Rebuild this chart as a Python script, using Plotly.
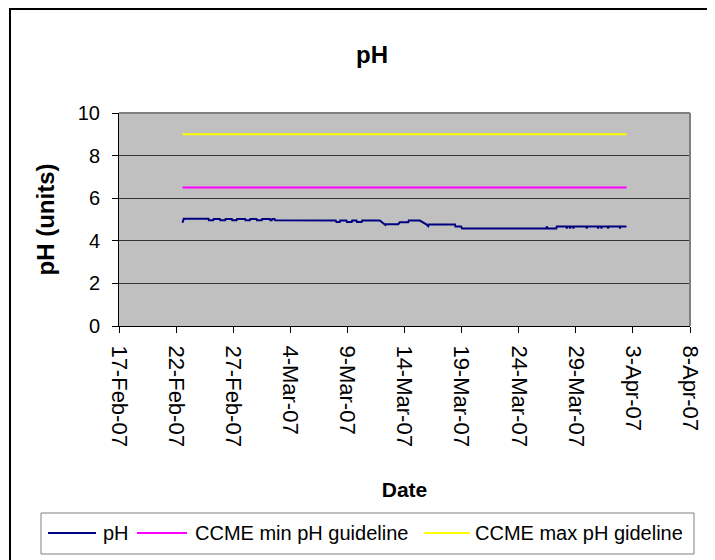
import plotly.graph_objects as go

# ---------------- data ----------------
ph_dates = [
    "2007-02-22 13:30", "2007-02-22 16:00", "2007-02-24 20:00", "2007-02-24 21:00",
    "2007-02-25 06:00", "2007-02-25 07:00", "2007-02-25 20:00", "2007-02-25 21:00",
    "2007-02-26 07:00", "2007-02-26 08:00", "2007-02-26 21:00", "2007-02-26 22:00",
    "2007-02-27 07:00", "2007-02-27 08:00", "2007-02-28 01:00", "2007-02-28 02:00",
    "2007-02-28 11:00", "2007-02-28 12:00", "2007-03-01 01:00", "2007-03-01 02:00",
    "2007-03-01 12:00", "2007-03-01 13:00", "2007-03-02 05:00", "2007-03-02 06:00",
    "2007-03-02 09:00", "2007-03-02 10:00", "2007-03-02 15:00", "2007-03-02 16:00",
    "2007-03-07 23:30", "2007-03-08 01:00", "2007-03-08 08:00", "2007-03-08 09:00",
    "2007-03-08 22:00", "2007-03-08 23:00", "2007-03-09 09:00", "2007-03-09 10:00",
    "2007-03-09 19:00", "2007-03-09 20:00", "2007-03-10 06:00", "2007-03-10 07:00",
    "2007-03-11 20:00", "2007-03-12 07:00", "2007-03-12 08:00", "2007-03-12 09:00",
    "2007-03-13 11:00", "2007-03-13 14:00", "2007-03-14 08:00", "2007-03-14 09:00",
    "2007-03-15 08:00", "2007-03-15 22:00", "2007-03-16 02:00", "2007-03-16 03:00",
    "2007-03-18 10:00", "2007-03-18 11:00", "2007-03-18 23:00", "2007-03-19 01:00",
    "2007-03-26 10:00", "2007-03-26 11:00", "2007-03-26 13:00", "2007-03-27 07:00",
    "2007-03-27 08:00", "2007-03-28 04:00", "2007-03-28 05:00", "2007-03-28 06:00",
    "2007-03-28 11:00", "2007-03-28 12:00", "2007-03-28 13:00", "2007-03-28 18:00",
    "2007-03-28 19:00", "2007-03-28 20:00", "2007-03-29 22:00", "2007-03-29 23:00",
    "2007-03-30 00:00", "2007-03-30 22:00", "2007-03-30 23:00", "2007-03-31 00:00",
    "2007-03-31 05:00", "2007-03-31 06:00", "2007-03-31 07:00", "2007-03-31 19:00",
    "2007-03-31 20:00", "2007-03-31 21:00", "2007-04-01 20:00", "2007-04-01 21:00",
    "2007-04-01 22:00", "2007-04-02 10:30",
]
ph_values = [
    4.85, 5.03, 5.03, 4.96,
    4.96, 5.02, 5.02, 4.96,
    4.96, 5.02, 5.02, 4.96,
    4.96, 5.02, 5.02, 4.96,
    4.96, 5.02, 5.02, 4.96,
    4.96, 5.02, 5.02, 4.96,
    4.96, 5.02, 5.02, 4.96,
    4.95, 4.88, 4.88, 4.95,
    4.95, 4.88, 4.88, 4.95,
    4.95, 4.88, 4.88, 4.95,
    4.95, 4.78, 4.74, 4.78,
    4.78, 4.87, 4.87, 4.95,
    4.95, 4.77, 4.69, 4.77,
    4.77, 4.67, 4.67, 4.58,
    4.58, 4.67, 4.58, 4.58,
    4.67, 4.67, 4.58, 4.67,
    4.67, 4.58, 4.67, 4.67,
    4.58, 4.67, 4.67, 4.58,
    4.67, 4.67, 4.58, 4.67,
    4.67, 4.58, 4.67, 4.67,
    4.58, 4.67, 4.67, 4.58,
    4.67, 4.67,
]

guide_dates = ["2007-02-22 13:30", "2007-04-02 10:30"]
ccme_min = [6.5, 6.5]
ccme_max = [9.0, 9.0]

tick_dates = ["2007-02-17", "2007-02-22", "2007-02-27", "2007-03-04", "2007-03-09",
              "2007-03-14", "2007-03-19", "2007-03-24", "2007-03-29", "2007-04-03",
              "2007-04-08"]
tick_labels = ["17-Feb-07", "22-Feb-07", "27-Feb-07", "4-Mar-07", "9-Mar-07",
               "14-Mar-07", "19-Mar-07", "24-Mar-07", "29-Mar-07", "3-Apr-07",
               "8-Apr-07"]

series_names = ["pH", "CCME min pH guideline", "CCME max pH gideline"]
series_colors = ["#000080", "#FF00FF", "#FFFF00"]

# ---------------- layout helpers ----------------
# the page body has an 8px margin, so the figure is drawn offset by (8, 8)
OFF = 8
W, H = 715 - OFF, 560 - OFF
# plot area in window pixel coordinates
L, R, T, B = 119, 690, 113, 326
FONT = "Liberation Sans, Arial, sans-serif"


def px(x):
    return (x - L) / (R - L)


def py(y):
    return (B - y) / (B - T)


fig = go.Figure()
fig.add_trace(go.Scatter(x=ph_dates, y=ph_values, mode="lines", name=series_names[0],
                         line=dict(color=series_colors[0], width=2), showlegend=False))
fig.add_trace(go.Scatter(x=guide_dates, y=ccme_min, mode="lines", name=series_names[1],
                         line=dict(color=series_colors[1], width=2), showlegend=False))
fig.add_trace(go.Scatter(x=guide_dates, y=ccme_max, mode="lines", name=series_names[2],
                         line=dict(color=series_colors[2], width=2), showlegend=False))

shapes = []
# plot area top/right border (grey)
shapes.append(dict(type="line", xref="paper", yref="paper", x0=0, x1=1, y0=1, y1=1,
                   line=dict(color="#808080", width=2)))
shapes.append(dict(type="line", xref="paper", yref="paper", x0=1, x1=1, y0=0, y1=1,
                   line=dict(color="#808080", width=2)))
# outer chart border
shapes.append(dict(type="rect", xref="paper", yref="paper", x0=px(10), x1=px(760),
                   y0=py(600), y1=py(9), line=dict(color="black", width=2),
                   fillcolor="rgba(0,0,0,0)"))
# legend box
shapes.append(dict(type="rect", xref="paper", yref="paper", x0=px(41), x1=px(694),
                   y0=py(554), y1=py(513), line=dict(color="#808080", width=1),
                   fillcolor="white"))
leg_lines = [(48, 96), (137, 187), (424, 470)]
leg_text_x = [101, 193, 473]
leg_y = 533
annotations = []
for (a, b), tx, name, col in zip(leg_lines, leg_text_x, series_names, series_colors):
    shapes.append(dict(type="line", xref="paper", yref="paper", x0=px(a), x1=px(b),
                       y0=py(leg_y), y1=py(leg_y), line=dict(color=col, width=2)))
    annotations.append(dict(xref="paper", yref="paper", x=px(tx), y=py(leg_y),
                            xanchor="left", yanchor="middle", text=name, showarrow=False,
                            font=dict(family=FONT, size=20, color="black")))

fig.update_layout(
    width=W, height=H,
    margin=dict(l=L - OFF, r=W - (R - OFF), t=T - OFF, b=H - (B - OFF), pad=0),
    paper_bgcolor="white",
    plot_bgcolor="#C0C0C0",
    font=dict(family=FONT, size=20, color="black"),
    title=dict(text="<b>pH</b>", x=(372 - OFF) / W, xref="container", xanchor="center",
               y=1 - (55 - OFF) / H, yref="container", yanchor="middle",
               font=dict(family=FONT, size=24, color="black")),
    shapes=shapes,
    annotations=annotations,
    showlegend=False,
)

fig.update_xaxes(
    type="date",
    range=["2007-02-17", "2007-04-08"],
    tickmode="array", tickvals=tick_dates, ticktext=tick_labels,
    tickangle=90,
    ticks="outside", ticklen=6, tickcolor="black", tickwidth=1,
    showline=True, linecolor="black", linewidth=1,
    showgrid=False, zeroline=False,
    ticklabelstandoff=8,
    tickfont=dict(family=FONT, size=22, color="black"),
    title=dict(text="<b>Date</b>", font=dict(family=FONT, size=21, color="black"),
               standoff=36),
)
fig.update_yaxes(
    range=[0, 10], dtick=2, tick0=0,
    ticks="outside", ticklen=6, tickcolor="black", tickwidth=1,
    showline=True, linecolor="black", linewidth=1,
    showgrid=True, gridcolor="#333333", gridwidth=1,
    zeroline=False,
    ticklabelstandoff=8,
    tickfont=dict(family=FONT, size=20, color="black"),
    title=dict(text="<b>pH (units)</b>", font=dict(family=FONT, size=24, color="black"),
               standoff=16),
)

fig.write_html("out.html")
